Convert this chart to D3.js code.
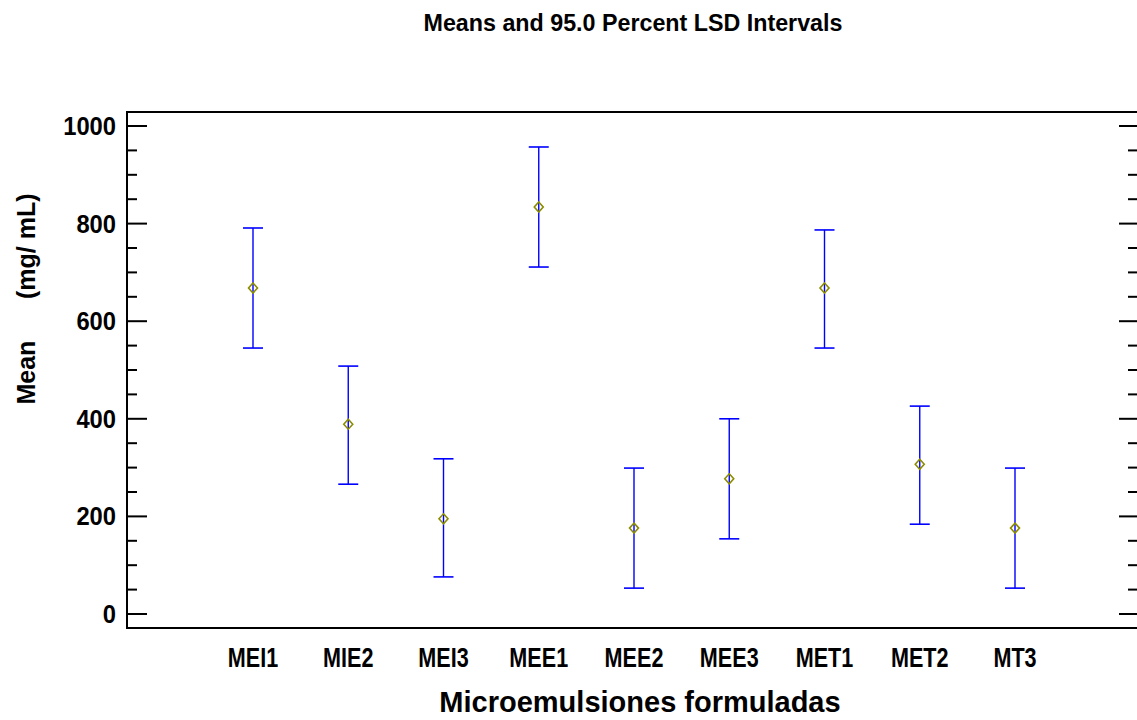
<!DOCTYPE html>
<html lang="en">
<head>
<meta charset="UTF-8">
<script src="https://d3js.org/d3.v7.min.js"></script>
<style>
    body { margin: 0; background: #fff; }
    svg { display: block; }
</style>
</head>
<body>
<svg></svg>
<script>
    // chart data
    let groups = ["MEI1", "MIE2", "MEI3", "MEE1", "MEE2", "MEE3", "MET1", "MET2", "MT3"];
    let means = [668, 389, 195, 834, 176, 277, 668, 307, 176];
    let lower = [545, 266, 76, 711, 53, 154, 545, 184, 53];
    let upper = [791, 508, 318, 957, 299, 400, 787, 426, 299];
    let yTicks = [0, 200, 400, 600, 800, 1000];

    let width = 1137, height = 720;
    let font = "'Liberation Sans', Arial, sans-serif";

    let svg = d3.select("svg")
        .attr("width", width)
        .attr("height", height);

    let plotLeft = 127, plotRight = 1137, plotTop = 112, plotBottom = 628;

    let x = d3.scaleLinear().domain([1, 9]).range([253, 1015]);
    let y = d3.scaleLinear().domain([-28.7, 1028.7]).range([plotBottom, plotTop]);

    // frame: left, top, bottom
    svg.append("path")
        .attr("d", `M${plotRight},${plotTop}H${plotLeft}V${plotBottom}H${plotRight}`)
        .attr("fill", "none")
        .attr("stroke", "#000")
        .attr("stroke-width", 2);

    // ticks every 50, majors every 200
    let minor = d3.range(0, 1001, 50);
    svg.append("g").selectAll("line")
        .data(minor)
        .enter().append("line")
        .attr("x1", plotLeft)
        .attr("x2", d => plotLeft + (d % 200 === 0 ? 20 : 10))
        .attr("y1", d => y(d)).attr("y2", d => y(d))
        .attr("stroke", "#000").attr("stroke-width", 2);
    svg.append("g").selectAll("line")
        .data(minor)
        .enter().append("line")
        .attr("x1", plotRight)
        .attr("x2", d => plotRight - (d % 200 === 0 ? 18 : 9))
        .attr("y1", d => y(d)).attr("y2", d => y(d))
        .attr("stroke", "#000").attr("stroke-width", 2);

    // tick labels (slightly condensed, like Arial Narrow)
    svg.append("g").selectAll("text")
        .data(yTicks)
        .enter().append("text")
        .attr("transform", d => `translate(${plotLeft - 11},${y(d) + 9}) scale(0.95,1)`)
        .attr("text-anchor", "end")
        .style("font-family", font)
        .style("font-weight", "bold")
        .style("font-size", "25px")
        .text(d => d);

    svg.append("g").selectAll("text")
        .data(groups)
        .enter().append("text")
        .attr("transform", (d, i) => `translate(${x(i + 1)},667) scale(0.8,1)`)
        .attr("text-anchor", "middle")
        .style("font-family", font)
        .style("font-weight", "bold")
        .style("font-size", "27px")
        .text(d => d);

    // intervals
    let g = svg.append("g").selectAll("g")
        .data(groups)
        .enter().append("g");

    g.append("line")
        .attr("x1", (d, i) => x(i + 1)).attr("x2", (d, i) => x(i + 1))
        .attr("y1", (d, i) => y(lower[i])).attr("y2", (d, i) => y(upper[i]))
        .attr("stroke", "#0000ff").attr("stroke-width", 1.4);
    g.append("line")
        .attr("x1", (d, i) => x(i + 1) - 10).attr("x2", (d, i) => x(i + 1) + 10)
        .attr("y1", (d, i) => y(upper[i])).attr("y2", (d, i) => y(upper[i]))
        .attr("stroke", "#0000ff").attr("stroke-width", 1.6);
    g.append("line")
        .attr("x1", (d, i) => x(i + 1) - 10).attr("x2", (d, i) => x(i + 1) + 10)
        .attr("y1", (d, i) => y(lower[i])).attr("y2", (d, i) => y(lower[i]))
        .attr("stroke", "#0000ff").attr("stroke-width", 1.6);
    g.append("path")
        .attr("d", (d, i) => {
            let cx = x(i + 1), cy = y(means[i]);
            return `M${cx},${cy - 5}L${cx + 4.5},${cy}L${cx},${cy + 5}L${cx - 4.5},${cy}Z`;
        })
        .attr("fill", "none")
        .attr("stroke", "#8c8c00")
        .attr("stroke-width", 1.6);

    // titles
    svg.append("text")
        .attr("transform", "translate(633,31) scale(0.97,1)")
        .attr("text-anchor", "middle")
        .style("font-family", font)
        .style("font-weight", "bold")
        .style("font-size", "24px")
        .text("Means and 95.0 Percent LSD Intervals");

    svg.append("text")
        .attr("x", 640).attr("y", 712)
        .attr("text-anchor", "middle")
        .style("font-family", font)
        .style("font-weight", "bold")
        .style("font-size", "29px")
        .text("Microemulsiones formuladas");

    svg.append("text")
        .attr("transform", "translate(35,299) rotate(-90)")
        .attr("text-anchor", "middle")
        .style("font-family", font)
        .style("font-weight", "bold")
        .style("font-size", "25px")
        .style("white-space", "pre")
        .text("Mean      (mg/ mL)");
</script>
</body>
</html>
